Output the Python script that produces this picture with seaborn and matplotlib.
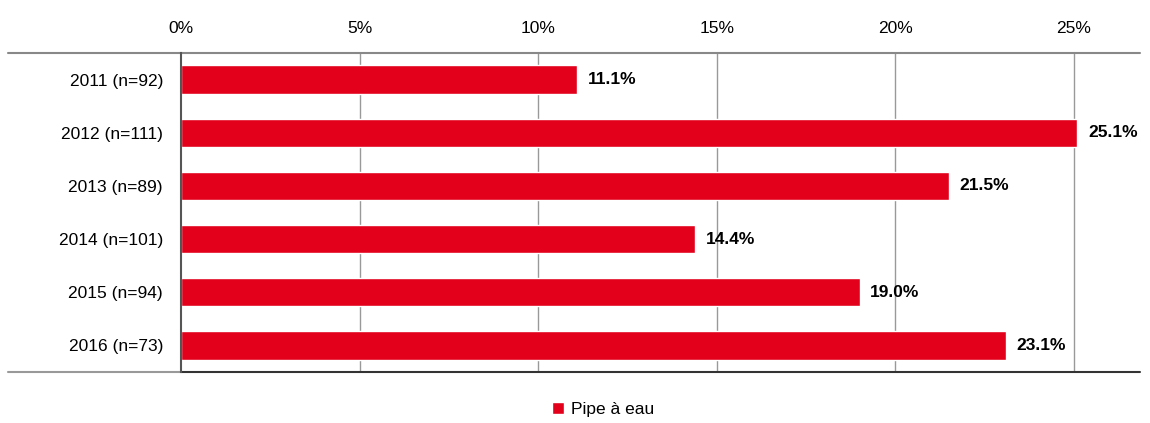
import matplotlib
matplotlib.use("Agg")
import matplotlib.pyplot as plt
import seaborn as sns
import pandas as pd
from matplotlib.ticker import FuncFormatter

# Data
categories = ["2011 (n=92)", "2012 (n=111)", "2013 (n=89)",
              "2014 (n=101)", "2015 (n=94)", "2016 (n=73)"]
values = [11.1, 25.1, 21.5, 14.4, 19.0, 23.1]
series_name = "Pipe à eau"
xticks = [0, 5, 10, 15, 20, 25]

RED = "#E2001A"

sns.set_style("white")
plt.rcParams['font.family'] = ['Liberation Sans', 'DejaVu Sans']
plt.rcParams['text.color'] = 'black'
plt.rcParams['xtick.color'] = 'black'
plt.rcParams['ytick.color'] = 'black'

df = pd.DataFrame({"cat": categories, "val": values})

fig = plt.figure(figsize=(11.5, 4.23), dpi=100)
ax = fig.add_axes([181 / 1150, 1 - 372 / 423, (1140 - 181) / 1150, (372 - 53) / 423])

sns.barplot(data=df, x="val", y="cat", orient="h", color=RED, width=0.53,
            saturation=1, ax=ax, label=series_name)

ax.set_xlim(0, 26.85)
ax.set_ylim(5.5, -0.5)
ax.set_xticks(xticks)
ax.xaxis.set_major_formatter(FuncFormatter(lambda v, p: f"{v:.0f}%"))
ax.xaxis.tick_top()
ax.tick_params(axis="x", length=0, pad=12, labelsize=12.5)
ax.tick_params(axis="y", length=0, pad=13, labelsize=12.5)
ax.set_xlabel("")
ax.set_ylabel("")

for t in xticks[1:]:
    ax.axvline(t, color="#999999", lw=1, zorder=0)

for s in ["top", "bottom", "right"]:
    ax.spines[s].set_visible(False)
ax.spines["left"].set_color("#555555")
ax.spines["left"].set_linewidth(1.5)

# horizontal frame lines extending into label area
ax.axhline(-0.5, xmin=-0.18, xmax=1, color="#888888", lw=1.5, clip_on=False)
ax.axhline(5.5, xmin=-0.18, xmax=0, color="#999999", lw=1.5, clip_on=False)
ax.axhline(5.5, xmin=0, xmax=1, color="#333333", lw=1.5, clip_on=False)

for i, v in enumerate(values):
    ax.text(v + 0.3, i, f"{v:.1f}%", va="center", ha="left",
            fontsize=12.5, fontweight="bold")

ax.legend(loc="upper center", bbox_to_anchor=(0.44, -0.055), frameon=False,
          handlelength=0.7, handleheight=0.7, handletextpad=0.4, fontsize=12.5,
          borderpad=0.2)

plt.savefig("out.png", dpi=100)
